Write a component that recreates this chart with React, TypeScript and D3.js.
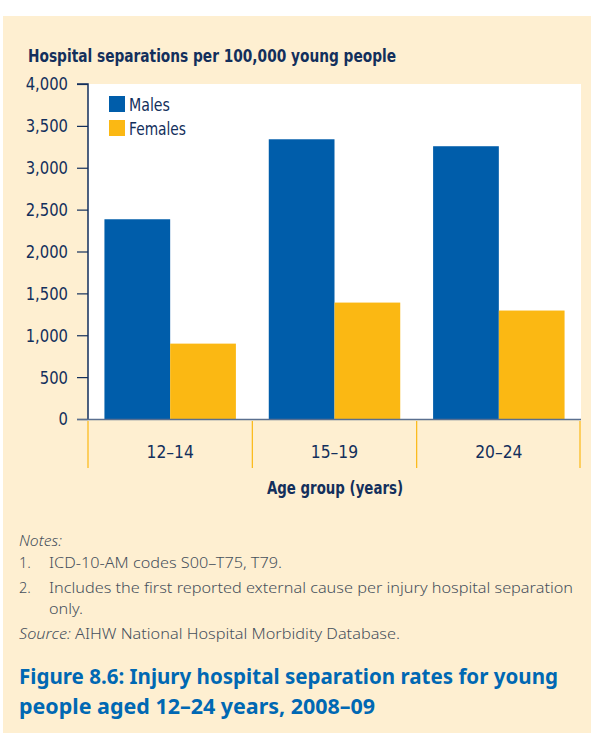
import React, { useEffect, useRef } from 'react';
import * as d3 from 'd3';

const ageGroups = ['12–14', '15–19', '20–24'];
const seriesNames = ['Males', 'Females'];
const males = [2385, 3340, 3257];
const females = [900, 1390, 1295];
const yTicks = [0, 500, 1000, 1500, 2000, 2500, 3000, 3500, 4000];

// note text lines with the widths they take in the source layout
const notes = [
  { num: '1.', lines: [{ t: 'ICD-10-AM codes S00–T75, T79.', w: 233 }] },
  {
    num: '2.',
    lines: [
      { t: 'Includes the first reported external cause per injury hospital separation', w: 524 },
      { t: 'only.', w: 34 },
    ],
  },
];
const captionLines = [
  { t: 'Figure 8.6: Injury hospital separation rates for young', w: 539 },
  { t: 'people aged 12–24 years, 2008–09', w: 356 },
];

const BLUE = '#005DAA';
const GOLD = '#FBB813';
const BEIGE = '#FEEFD1';
const NAVY = '#132F5C';
const CONDENSED = '"DejaVu Sans", sans-serif';
const BODY = '"Noto Sans", "Open Sans", sans-serif';

const App: React.FC = () => {
  const svgRef = useRef<SVGSVGElement>(null);

  useEffect(() => {
    if (!svgRef.current) return;
    const width = 591;
    const height = 733;
    const margin = { top: 84, right: 10, bottom: 314, left: 88 };

    const svg = d3.select(svgRef.current);
    svg.selectAll('*').remove();

    svg.append('rect').attr('width', width).attr('height', height).attr('fill', '#fff');
    svg.append('rect').attr('x', 3).attr('y', 16).attr('width', width - 3).attr('height', height - 16).attr('fill', BEIGE);

    const x0 = d3.scaleBand<string>().domain(ageGroups).range([margin.left, width - margin.right]).padding(0);
    const x1 = d3.scaleBand<string>().domain(seriesNames).range([0, x0.bandwidth()]).paddingInner(0).paddingOuter(0.25);
    const y = d3.scaleLinear().domain([0, 4000]).range([height - margin.bottom, margin.top]);

    svg.append('rect')
      .attr('x', margin.left)
      .attr('y', margin.top)
      .attr('width', width - margin.right - margin.left)
      .attr('height', y(0) - margin.top)
      .attr('fill', '#fff');

    const squeeze = (sel: any, w: number) => sel.attr('textLength', w).attr('lengthAdjust', 'spacingAndGlyphs');
    // narrow text to a share of its natural width (the source uses a condensed face)
    const condense = (sel: any, k: number) =>
      sel.each(function (this: SVGTextElement) {
        const w = this.getComputedTextLength();
        d3.select(this).attr('textLength', w * k).attr('lengthAdjust', 'spacingAndGlyphs');
      });

    // title
    svg.append('text')
      .attr('x', 28)
      .attr('y', 62)
      .attr('fill', NAVY)
      .attr('font-family', CONDENSED)
      .attr('font-weight', 'bold')
      .attr('font-size', 17)
      .call(squeeze, 368)
      .text('Hospital separations per 100,000 young people');

    // bars
    const groups = svg.selectAll('g.grp')
      .data(ageGroups)
      .enter()
      .append('g')
      .attr('class', 'grp')
      .attr('transform', d => `translate(${x0(d)},0)`);

    groups.each(function (g, i) {
      const vals = [males[i], females[i]];
      d3.select(this)
        .selectAll('rect')
        .data(seriesNames)
        .enter()
        .append('rect')
        .attr('x', s => x1(s) as number)
        .attr('width', x1.bandwidth())
        .attr('y', (s, j) => y(vals[j]))
        .attr('height', (s, j) => y(0) - y(vals[j]))
        .attr('fill', (s, j) => (j === 0 ? BLUE : GOLD));
    });

    // y axis
    const yAxis = svg.append('g')
      .attr('transform', `translate(${margin.left},0)`)
      .call(d3.axisLeft(y).tickValues(yTicks).tickFormat(d3.format(',') as any).tickSize(11).tickPadding(9));
    yAxis.select('.domain').attr('stroke', NAVY).attr('stroke-width', 1.5).attr('d', `M-11,${y(4000)}H0V${y(0)}`);
    yAxis.selectAll('.tick line').attr('stroke', NAVY).attr('stroke-width', 1.2);
    yAxis.selectAll('.tick text')
      .attr('fill', NAVY)
      .attr('font-family', CONDENSED)
      .attr('font-size', 18.5)
      .call(condense, 0.8);

    svg.append('line')
      .attr('x1', 77)
      .attr('x2', width - margin.right)
      .attr('y1', y(0) + 0.5)
      .attr('y2', y(0) + 0.5)
      .attr('stroke', '#5a6f8f')
      .attr('stroke-width', 1.5);

    const seps = ageGroups.map(d => x0(d) as number).concat([width - margin.right - 1]);
    svg.selectAll('line.sep')
      .data(seps)
      .enter()
      .append('line')
      .attr('class', 'sep')
      .attr('x1', d => d)
      .attr('x2', d => d)
      .attr('y1', y(0) + 2)
      .attr('y2', 468)
      .attr('stroke', GOLD)
      .attr('stroke-width', 1.2);

    svg.selectAll('text.cat')
      .data(ageGroups)
      .enter()
      .append('text')
      .attr('class', 'cat')
      .attr('x', d => (x0(d) as number) + x0.bandwidth() / 2)
      .attr('y', 458)
      .attr('text-anchor', 'middle')
      .attr('fill', NAVY)
      .attr('font-family', CONDENSED)
      .attr('font-size', 18.5)
      .text(d => d)
      .call(condense, 0.84);

    svg.append('text')
      .attr('x', 335)
      .attr('y', 494)
      .attr('text-anchor', 'middle')
      .attr('fill', NAVY)
      .attr('font-family', CONDENSED)
      .attr('font-weight', 'bold')
      .attr('font-size', 18)
      .call(squeeze, 136)
      .text('Age group (years)');

    // legend
    const legendWidths = [41, 57];
    const legend = svg.selectAll('g.leg')
      .data(seriesNames)
      .enter()
      .append('g')
      .attr('class', 'leg')
      .attr('transform', (d, i) => `translate(109,${96 + i * 24})`);
    legend.append('rect').attr('width', 16).attr('height', 16).attr('fill', (d, i) => (i === 0 ? BLUE : GOLD));
    legend.append('text')
      .attr('x', 20)
      .attr('y', 14.5)
      .attr('fill', NAVY)
      .attr('font-family', CONDENSED)
      .attr('font-size', 18.5)
      .attr('textLength', (d, i) => legendWidths[i])
      .attr('lengthAdjust', 'spacingAndGlyphs')
      .text(d => d);

    // notes
    const noteColor = '#46505c';
    const fs = 14.5;
    const noteText = (x: number, yy: number) =>
      svg.append('text')
        .attr('x', x).attr('y', yy)
        .attr('fill', noteColor)
        .attr('font-family', BODY)
        .attr('font-weight', 300)
        .attr('font-size', fs);

    noteText(19, 546).attr('font-style', 'italic').call(squeeze, 43).text('Notes:');

    let ny = 568;
    notes.forEach(n => {
      noteText(19, ny).text(n.num);
      n.lines.forEach(l => {
        noteText(49, ny).call(squeeze, l.w).text(l.t);
        ny += 21;
      });
      ny += 4;
    });

    const src = noteText(19, 639).call(squeeze, 381);
    src.append('tspan').attr('font-style', 'italic').text('Source:');
    src.append('tspan').text(' AIHW National Hospital Morbidity Database.');

    // figure caption
    captionLines.forEach((l, i) => {
      svg.append('text')
        .attr('x', 19)
        .attr('y', 684 + i * 30)
        .attr('fill', '#0068B3')
        .attr('font-family', BODY)
        .attr('font-weight', 'bold')
        .attr('font-size', 21)
        .call(squeeze, l.w)
        .text(l.t);
    });
  }, []);

  return (
    <div style={{ position: 'absolute', left: 0, top: 0 }}>
      <svg ref={svgRef} width={591} height={733} style={{ display: 'block' }}></svg>
    </div>
  );
};

export default App;
